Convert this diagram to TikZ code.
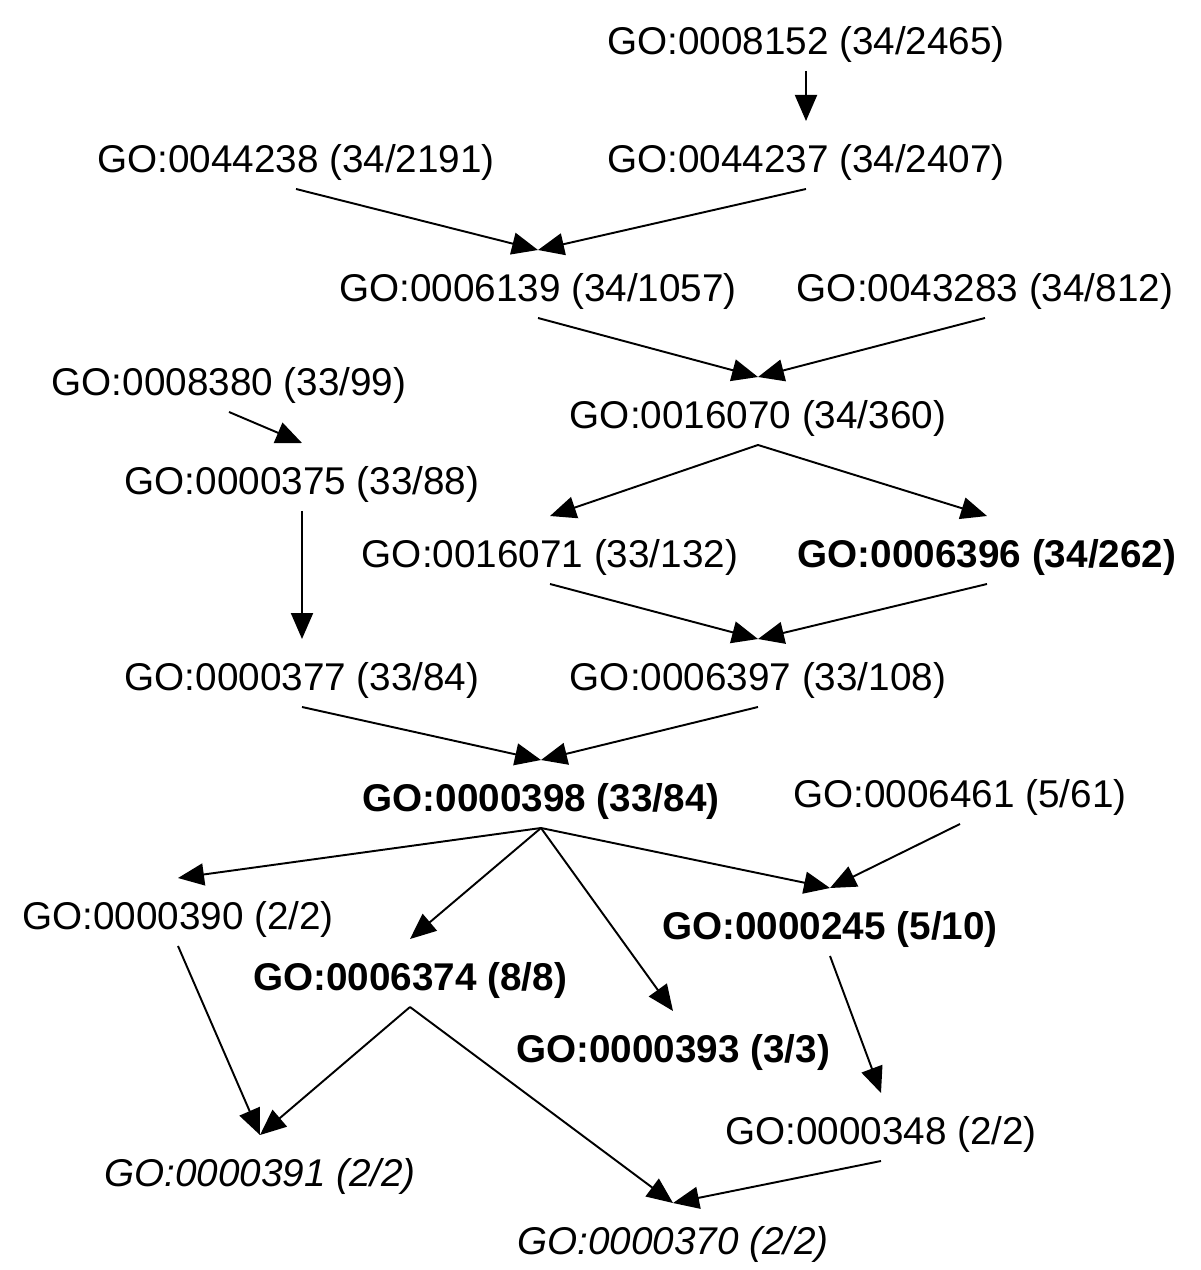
\documentclass[tikz,border=0pt]{standalone}
\usepackage{fontspec}
\setmainfont{Liberation Sans}
\usetikzlibrary{arrows.meta}

\begin{document}
\begin{tikzpicture}[x=0.01cm, y=-0.01cm, line width=0.55pt,
    >={Triangle[length=0.26cm, width=0.22cm]},
    term/.style={inner sep=0pt, text height=0.5cm, text depth=0.16cm, font=\fontsize{11pt}{13pt}\selectfont},
    sig/.style={term, font=\fontsize{11pt}{13pt}\selectfont\bfseries},
    leaf/.style={term, font=\fontsize{11pt}{13pt}\selectfont\itshape}]
    \useasboundingbox (0,0) rectangle (1200,1270);

    % Nodes
    \node[term] (go8152) at (806,37) {GO:0008152 (34/2465)};
    \node[term] (go44238) at (296,155) {GO:0044238 (34/2191)};
    \node[term] (go44237) at (806,155) {GO:0044237 (34/2407)};
    \node[term] (go6139) at (538,284) {GO:0006139 (34/1057)};
    \node[term] (go43283) at (985,284) {GO:0043283 (34/812)};
    \node[term] (go8380) at (229,378) {GO:0008380 (33/99)};
    \node[term] (go16070) at (758,411) {GO:0016070 (34/360)};
    \node[term] (go375) at (302,477) {GO:0000375 (33/88)};
    \node[term] (go16071) at (550,550) {GO:0016071 (33/132)};
    \node[sig] (go6396) at (987,550) {GO:0006396 (34/262)};
    \node[term] (go377) at (302,673) {GO:0000377 (33/84)};
    \node[term] (go6397) at (758,673) {GO:0006397 (33/108)};
    \node[sig] (go398) at (541,794) {GO:0000398 (33/84)};
    \node[term] (go6461) at (960,790) {GO:0006461 (5/61)};
    \node[term] (go390) at (178,912) {GO:0000390 (2/2)};
    \node[sig] (go245) at (830,922) {GO:0000245 (5/10)};
    \node[sig] (go6374) at (410,973) {GO:0006374 (8/8)};
    \node[sig] (go393) at (673,1045) {GO:0000393 (3/3)};
    \node[term] (go348) at (881,1127) {GO:0000348 (2/2)};
    \node[leaf] (go391) at (260,1169) {GO:0000391 (2/2)};
    \node[leaf] (go370) at (673,1237) {GO:0000370 (2/2)};

    % Connections
    \draw[->] (go8152.south) -- (go44237.north);
    \draw[->] (go44238.south) -- (go6139.north);
    \draw[->] (go44237.south) -- (go6139.north);
    \draw[->] (go6139.south) -- (go16070.north);
    \draw[->] (go43283.south) -- (go16070.north);
    \draw[->] (go8380.south) -- (go375.north);
    \draw[->] (go16070.south) -- (go16071.north);
    \draw[->] (go16070.south) -- (go6396.north);
    \draw[->] (go375.south) -- (go377.north);
    \draw[->] (go16071.south) -- (go6397.north);
    \draw[->] (go6396.south) -- (go6397.north);
    \draw[->] (go377.south) -- (go398.north);
    \draw[->] (go6397.south) -- (go398.north);
    \draw[->] (go398.south) -- (go390.north);
    \draw[->] (go398.south) -- (go6374.north);
    \draw[->] (go398.south) -- (go393.north);
    \draw[->] (go398.south) -- (go245.north);
    \draw[->] (go6461.south) -- (go245.north);
    \draw[->] (go390.south) -- (go391.north);
    \draw[->] (go6374.south) -- (go391.north);
    \draw[->] (go6374.south) -- (go370.north);
    \draw[->] (go245.south) -- (go348.north);
    \draw[->] (go348.south) -- (go370.north);
\end{tikzpicture}
\end{document}
